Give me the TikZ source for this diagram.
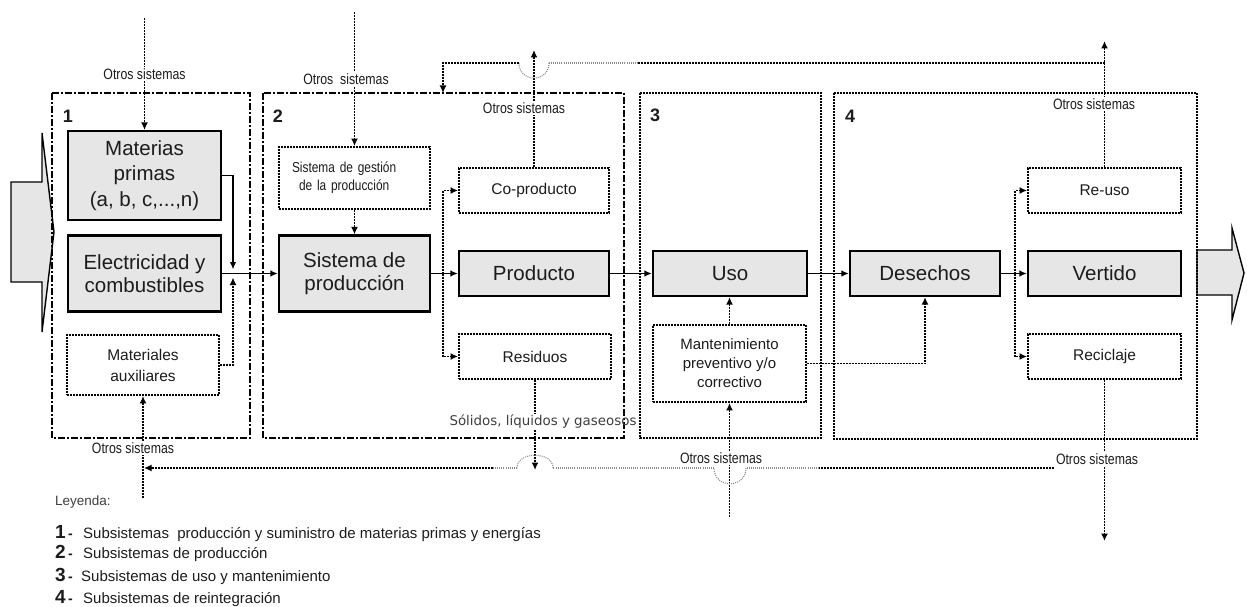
\documentclass[tikz,border=0pt]{standalone}
\usepackage{fontspec}
\setmainfont{Liberation Sans}
\newfontfamily\narrowsans[FakeStretch=0.82]{Liberation Sans}
\newfontfamily\widesans{DejaVu Sans}
\usetikzlibrary{arrows.meta}
\definecolor{ink}{HTML}{1C1C1C}
\definecolor{boxgray}{HTML}{E6E6E6}
\definecolor{hopgray}{HTML}{8C8C8C}

\begin{document}
\begin{tikzpicture}[x=1pt,y=-1pt,
  framedd/.style={line width=1.9pt, dash pattern=on 7pt off 2pt on 2pt off 2pt},
  framedot/.style={line width=1.9pt, dash pattern=on 2pt off 1pt},
  bigarrow/.style={draw=black, line width=1.4pt, fill=boxgray, line join=miter},
  solidbox/.style={draw=black, line width=2.2pt, fill=boxgray, text=ink, inner sep=0pt, align=center},
  dotbox/.style={draw=black, fill=white, line width=1.9pt, dash pattern=on 2pt off 1pt,
    text=ink, inner sep=0pt, align=center, font=\fontsize{15.5}{21}\selectfont},
  flow/.style={line width=1.8pt, -{Latex[length=7.5pt,width=6.5pt]}},
  dotline/.style={line width=1.9pt, dash pattern=on 2pt off 1pt},
  dotflow/.style={dotline, -{Latex[length=7.5pt,width=7pt]}},
  faintline/.style={line width=1.1pt, hopgray, dash pattern=on 1pt off 1.1pt},
  othertxt/.style={font=\narrowsans\fontsize{15}{17}\selectfont, text=ink, fill=white, inner sep=1.5pt},
  numlbl/.style={font=\bfseries\fontsize{18}{18}\selectfont, text=ink, inner sep=0pt},
  legnum/.style={anchor=base west, text=ink, inner sep=0pt},
  legtxt/.style={anchor=base west, text=ink, inner sep=0pt, font=\fontsize{15}{17}\selectfont}
]
\useasboundingbox (0,0) rectangle (1247,607);

% input and output block arrows
\draw[bigarrow] (11,182) -- (42,182) -- (42,133) -- (54,232) -- (42,332) -- (42,282) -- (11,282) -- cycle;
\draw[bigarrow] (1197,250) -- (1232,250) -- (1232,228) -- (1244,273) -- (1232,320) -- (1232,295) -- (1197,295) -- cycle;

% subsystem frames
\draw[framedd] (52,93) rectangle (250,438);
\draw[framedd] (263,93) rectangle (624,438);
\draw[framedot] (640,93) rectangle (821,438);
\draw[framedot] (834,93) rectangle (1197,439);

\node[numlbl] (n1) at (68,116) {1};
\node[numlbl] (n2) at (278,116) {2};
\node[numlbl] (n3) at (655,115) {3};
\node[numlbl] (n4) at (850,116) {4};

% main blocks
\node[solidbox, minimum width=153pt, minimum height=89pt, font=\fontsize{20.5}{25.5}\selectfont]
  (mp) at (144.5,175.5) {Materias\\primas\\(a, b, c,...,n)};
\node[solidbox, minimum width=153pt, minimum height=76pt, font=\fontsize{20.5}{23}\selectfont]
  (ec) at (144.5,273.5) {Electricidad y\\combustibles};
\node[solidbox, minimum width=151pt, minimum height=76pt, font=\fontsize{20.5}{23}\selectfont]
  (sp) at (354.5,273.5) {Sistema de\\producción};
\node[solidbox, minimum width=150pt, minimum height=45pt, font=\fontsize{20.5}{23}\selectfont]
  (pr) at (534,273.5) {Producto};
\node[solidbox, minimum width=154pt, minimum height=45pt, font=\fontsize{20.5}{23}\selectfont]
  (uso) at (730,273.5) {Uso};
\node[solidbox, minimum width=150pt, minimum height=45pt, font=\fontsize{20.5}{23}\selectfont]
  (de) at (925,273.5) {Desechos};
\node[solidbox, minimum width=153pt, minimum height=45pt, font=\fontsize{20.5}{23}\selectfont]
  (ve) at (1104.5,273.5) {Vertido};

% secondary blocks
\node[dotbox, text width=125pt, inner xsep=13pt, minimum height=62pt, align=left,
  font=\narrowsans\fontsize{14.5}{18}\selectfont]
  (sg) at (354.5,178) {Sistema de gestión\\\hspace*{7pt}de la producción};
\node[dotbox, minimum width=150pt, minimum height=45pt] (cp) at (534,190.5) {Co-producto};
\node[dotbox, minimum width=152pt, minimum height=45pt] (re) at (535,356.5) {Residuos};
\node[dotbox, minimum width=153pt, minimum height=77pt, font=\fontsize{15}{19}\selectfont]
  (mt) at (729.5,363.5) {Mantenimiento\\preventivo y/o\\correctivo};
\node[dotbox, minimum width=152pt, minimum height=60pt] (ma) at (143,365) {Materiales\\auxiliares};
\node[dotbox, minimum width=153pt, minimum height=45pt] (ru) at (1104.5,190.5) {Re-uso};
\node[dotbox, minimum width=153pt, minimum height=45pt] (rc) at (1104.5,356.5) {Reciclaje};

\node[font=\widesans\fontsize{13.4}{16}\selectfont, text=ink!85, inner sep=1pt]
  (sol) at (543,422) {Sólidos, líquidos y gaseosos};

% free ends of the exchange lines
\coordinate (in1) at (144.5,18);
\coordinate (in2) at (354.5,12);
\coordinate (in3) at (729.5,517);
\coordinate (in4) at (143,498);
\coordinate (out1) at (534,50);
\coordinate (out2) at (1104.5,41);
\coordinate (out3) at (535,470);
\coordinate (out4) at (1104.5,541);
\coordinate (jn) at (233,273.5);
\coordinate (br1) at (443,273.5);
\coordinate (br2) at (1015,273.5);
\coordinate (tj) at (1104.5,63);
\coordinate (tk) at (443,63);
\coordinate (tin) at (443,93);
\coordinate (bj) at (1054,468);
\coordinate (bk) at (144,468);

% main flow
\draw[flow] (mp.east) -| ([yshift=4pt]jn);
\draw[dotflow] (ma.east) -| ([yshift=-4pt]jn);
\draw[flow] (ec.east) -- (sp.west);
\draw[flow] (sp.east) -- (pr.west);
\draw[flow] (pr.east) -- (uso.west);
\draw[flow] (uso.east) -- (de.west);
\draw[flow] (de.east) -- (ve.west);

% branches
\draw[dotflow] (br1) |- (cp.west);
\draw[dotflow] (br1) |- (re.west);
\draw[dotflow] (br2) |- (ru.west);
\draw[dotflow] (br2) |- (rc.west);
\draw[dotflow] (in2) -- (sg.north);
\draw[dotflow] (sg.south) -- (sp.north);
\draw[dotflow] (in1) -- (mp.north);
\draw[dotflow] (mt.north) -- (mt.north |- uso.south);
\draw[dotflow] (mt.east) -| (de.south);
\draw[dotflow] (in3) -- (mt.south);
\draw[dotflow] (in4) -- (ma.south);
\draw[dotflow] (cp.north) -- (out1);
\draw[dotflow] (ru.north) -- (out2);
\draw[dotflow] (rc.south) -- (out4);
\draw[dotline] (re.south) -- (re.south |- sol.north);
\draw[dotflow] (re.south |- sol.south) -- (out3);

% return line along the top
\draw[dotline] (tj) -- (638,63);
\draw[faintline] (638,63) -- (549,63);
\draw[faintline] (549,63) .. controls (549,83) and (519,83) .. (519,63);
\draw[dotflow] (519,63) -- (tk) -- (tin);

% return line along the bottom
\draw[dotline] (bj) -- (819,468);
\draw[faintline] (819,468) -- (746,468);
\draw[faintline] (746,468) .. controls (746,489) and (714,489) .. (714,468);
\draw[faintline] (714,468) -- (553,468);
\draw[faintline] (553,468) .. controls (553,451) and (517,451) .. (517,468);
\draw[faintline] (517,468) -- (493,468);
\draw[dotflow] (493,468) -- (bk);

% labels of the other systems
\node[othertxt] (o1) at (144.5,74) {Otros sistemas};
\node[othertxt] (o2) at (346,79) {Otros\ \ sistemas};
\node[othertxt] (o3) at (524,108) {Otros sistemas};
\node[othertxt] (o4) at (1094,104) {Otros sistemas};
\node[othertxt] (o5) at (133,448) {Otros sistemas};
\node[othertxt] (o6) at (721,458) {Otros sistemas};
\node[othertxt] (o7) at (1097,459) {Otros sistemas};

% legend
\node[anchor=base west, inner sep=0pt, text=ink!85, font=\fontsize{13.5}{16}\selectfont] (leg) at (55,505) {Leyenda:};
\node[legnum] (l1) at (55,538) {{\bfseries\fontsize{19}{19}\selectfont 1}{\bfseries\fontsize{14}{14}\selectfont\,-}};
\node[legtxt] (lt1) at (83,538) {Subsistemas\ \ producción y suministro de materias primas y energías};
\node[legnum] (l2) at (55,558) {{\bfseries\fontsize{19}{19}\selectfont 2}{\bfseries\fontsize{14}{14}\selectfont\,-}};
\node[legtxt] (lt2) at (83,558) {Subsistemas de producción};
\node[legnum] (l3) at (55,581) {{\bfseries\fontsize{19}{19}\selectfont 3}{\bfseries\fontsize{14}{14}\selectfont\,-}};
\node[legtxt] (lt3) at (81,581) {Subsistemas de uso y mantenimiento};
\node[legnum] (l4) at (55,603) {{\bfseries\fontsize{19}{19}\selectfont 4}{\bfseries\fontsize{14}{14}\selectfont\,-}};
\node[legtxt] (lt4) at (83,603) {Subsistemas de reintegración};
\end{tikzpicture}
\end{document}
